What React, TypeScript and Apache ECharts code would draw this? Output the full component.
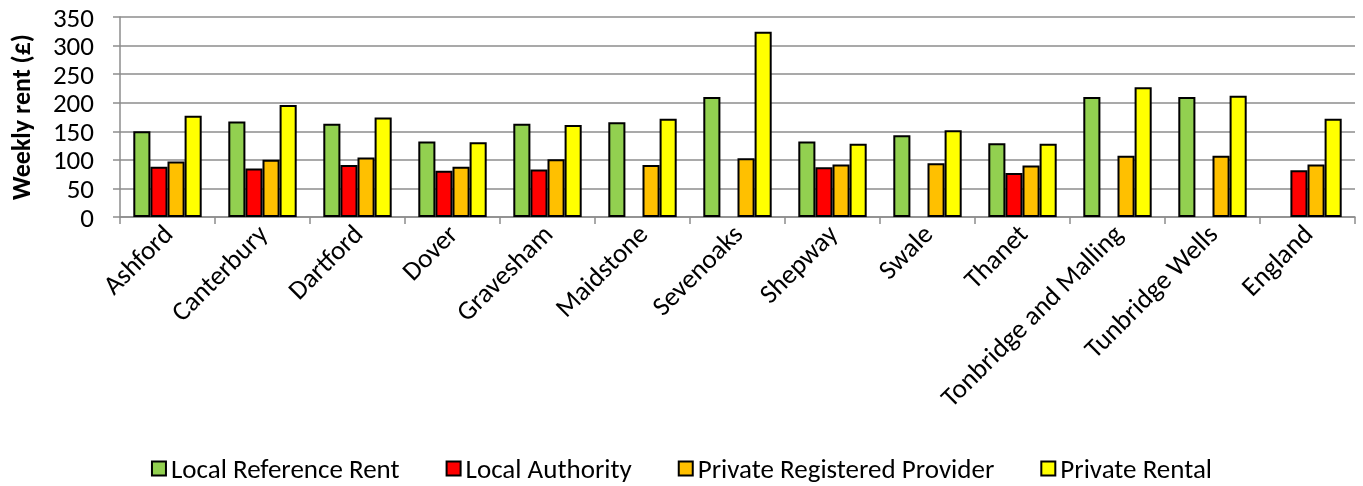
import React, { useEffect, useRef } from "react";
import * as echarts from "echarts";

const categories = [
  "Ashford", "Canterbury", "Dartford", "Dover", "Gravesham", "Maidstone", "Sevenoaks",
  "Shepway", "Swale", "Thanet", "Tonbridge and Malling", "Tunbridge Wells", "England",
];
const localReferenceRent = [150, 167, 163, 132, 163, 166, 210, 132, 143, 129, 210, 210, null];
const localAuthority = [88, 85, 91, 81, 83, null, null, 87, null, 77, null, null, 82];
const privateRegisteredProvider = [97, 100, 104, 88, 101, 91, 103, 92, 94, 90, 107, 107, 92];
const privateRental = [177, 196, 174, 131, 161, 172, 324, 128, 152, 128, 227, 212, 172];
const seriesNames = ["Local Reference Rent", "Local Authority", "Private Registered Provider", "Private Rental"];
const seriesColors = ["#92D050", "#FF0000", "#FFC000", "#FFFF00"];
const yTicks = { min: 0, max: 350, interval: 50 };

const FONT = 'Carlito, Lato, "Open Sans", sans-serif';

export default function App() {
  const ref = useRef<HTMLDivElement>(null);
  useEffect(() => {
    if (!ref.current) return;
    const chart = echarts.init(ref.current, undefined, { renderer: "svg" });
    const data = [localReferenceRent, localAuthority, privateRegisteredProvider, privateRental];
    chart.setOption({
      animation: false,
      textStyle: { fontFamily: FONT },
      grid: { left: 108, right: 8, top: 17, bottom: 269 },
      legend: {
        top: 450,
        left: "center",
        itemWidth: 14,
        itemHeight: 14,
        itemGap: 46,
        icon: "rect",
        textStyle: { fontSize: 27, color: "#000", fontFamily: FONT },
        data: seriesNames,
      },
      xAxis: {
        type: "category",
        data: categories,
        axisLine: { lineStyle: { color: "#8c8c8c", width: 1.5 } },
        axisTick: { show: true, length: 7, lineStyle: { color: "#8c8c8c", width: 1.5 } },
        axisLabel: { rotate: 45, fontSize: 27, color: "#000", margin: 12, interval: 0, fontFamily: FONT },
      },
      yAxis: {
        type: "value",
        min: yTicks.min,
        max: yTicks.max,
        interval: yTicks.interval,
        name: "Weekly rent (£)",
        nameLocation: "middle",
        nameGap: 88,
        nameRotate: 90,
        nameTextStyle: { fontSize: 26, fontWeight: "bold", color: "#000", fontFamily: FONT, lineHeight: 22 },
        axisLine: { show: true, lineStyle: { color: "#8c8c8c", width: 1.5 } },
        axisTick: { show: true, length: 7, lineStyle: { color: "#8c8c8c", width: 1.5 } },
        axisLabel: { fontSize: 27, color: "#000", margin: 26, lineHeight: 20, fontFamily: FONT },
        splitLine: { lineStyle: { color: "#8c8c8c", width: 1.5 } },
      },
      series: seriesNames.map((name, i) => ({
        name,
        type: "bar",
        data: data[i],
        barGap: "0%",
        barCategoryGap: "28%",
        itemStyle: { color: seriesColors[i], borderColor: "#000", borderWidth: 2 },
      })),
    });
    return () => chart.dispose();
  }, []);
  return <div ref={ref} style={{ position: "fixed", left: 0, top: 0, width: 1363, height: 486 }} />;
}
